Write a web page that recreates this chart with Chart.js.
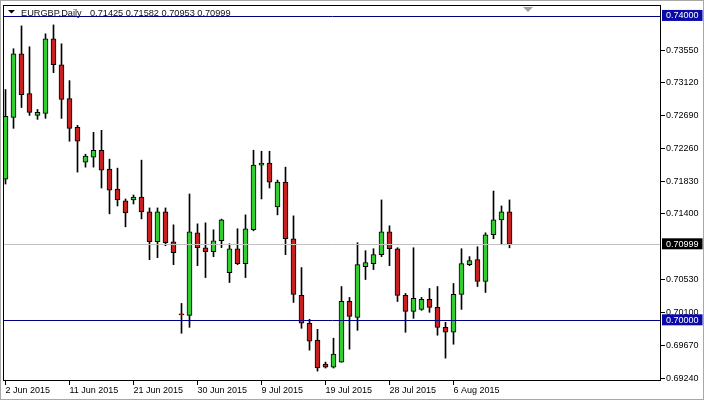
<!DOCTYPE html>
<html>
<head>
<meta charset="utf-8">
<script src="https://cdn.jsdelivr.net/npm/chart.js@4.4.1/dist/chart.umd.min.js"></script>
<style>
  html, body { margin: 0; padding: 0; background: #fff; }
  canvas { display: block; }
</style>
</head>
<body>
<canvas id="eurgbp" width="705" height="401"></canvas>
<script>
// header text
const symbolTitle = 'EURGBP,Daily';
const titleQuote = '0.71425 0.71582 0.70953 0.70999';

// daily OHLC, 2 Jun 2015 .. 14 Aug 2015 (one bar per trading day)
const opens = [
  0.71856, 0.72667, 0.73503, 0.72980, 0.72693, 0.72719, 0.73699, 0.73359, 0.72915, 0.72536,
  0.72078, 0.72144, 0.72235, 0.71987, 0.71725, 0.71569, 0.71582, 0.71621, 0.71425, 0.71033,
  0.71425, 0.71033, 0.70085, 0.70065, 0.71150, 0.70954, 0.70902, 0.71046, 0.70627, 0.70941,
  0.70745, 0.71190, 0.72039, 0.72065, 0.71490, 0.71817, 0.71072, 0.70327, 0.69961, 0.69739,
  0.69425, 0.69386, 0.69451, 0.70248, 0.70039, 0.70706, 0.70745, 0.70863, 0.71163, 0.70941,
  0.70327, 0.70118, 0.70144, 0.70275, 0.70170, 0.69908, 0.69843, 0.70340, 0.70732, 0.70797,
  0.70510, 0.71124, 0.71320, 0.71425
];
const highs = [
  0.73033, 0.73569, 0.73869, 0.73595, 0.72771, 0.73765, 0.73882, 0.73634, 0.73150, 0.72562,
  0.72183, 0.72471, 0.72497, 0.72118, 0.72000, 0.71595, 0.71647, 0.72105, 0.71477, 0.71477,
  0.71477, 0.71255, 0.70222, 0.71660, 0.71268, 0.71281, 0.71190, 0.71330, 0.71006, 0.71203,
  0.71386, 0.72235, 0.72222, 0.72222, 0.71843, 0.72013, 0.71373, 0.70693, 0.70013, 0.69882,
  0.69451, 0.69765, 0.70444, 0.70301, 0.71020, 0.70915, 0.70941, 0.71582, 0.71242, 0.70954,
  0.70353, 0.70954, 0.70301, 0.70418, 0.70444, 0.69974, 0.70484, 0.70941, 0.70837, 0.70967,
  0.71150, 0.71699, 0.71503, 0.71582
];
const lows = [
  0.71791, 0.72523, 0.72797, 0.72693, 0.72641, 0.72654, 0.73255, 0.72654, 0.72353, 0.71948,
  0.72013, 0.72013, 0.71739, 0.71399, 0.71503, 0.71229, 0.71529, 0.71333, 0.70797, 0.70824,
  0.70980, 0.70732, 0.69830, 0.69908, 0.70719, 0.70562, 0.70837, 0.70954, 0.70497, 0.70732,
  0.70562, 0.71176, 0.71595, 0.71739, 0.71386, 0.70863, 0.70235, 0.69895, 0.69608, 0.69333,
  0.69373, 0.69373, 0.69451, 0.69621, 0.69869, 0.70536, 0.70667, 0.70837, 0.70719, 0.70248,
  0.69843, 0.70026, 0.70131, 0.70105, 0.69804, 0.69503, 0.69686, 0.70144, 0.70719, 0.70444,
  0.70366, 0.71072, 0.70993, 0.70953
];
const closes = [
  0.72680, 0.73503, 0.72967, 0.72732, 0.72732, 0.73699, 0.73359, 0.72902, 0.72523, 0.72353,
  0.72157, 0.72235, 0.71974, 0.71712, 0.71582, 0.71412, 0.71621, 0.71425, 0.71033, 0.71425,
  0.71020, 0.70889, 0.70072, 0.71163, 0.70954, 0.70902, 0.71046, 0.71320, 0.70941, 0.70745,
  0.71203, 0.72039, 0.72065, 0.71817, 0.71817, 0.71072, 0.70340, 0.69961, 0.69725, 0.69373,
  0.69386, 0.69556, 0.70248, 0.70052, 0.70732, 0.70758, 0.70863, 0.71163, 0.70941, 0.70327,
  0.70118, 0.70288, 0.70275, 0.70170, 0.69908, 0.69843, 0.70340, 0.70745, 0.70784, 0.70510,
  0.71124, 0.71320, 0.71425, 0.70999
];

// time axis: bar index -> label
const dateTickIdx = [0, 8, 16, 24, 32, 40, 48, 56];
const dateTickLabels = ['2 Jun 2015', '11 Jun 2015', '21 Jun 2015', '30 Jun 2015',
                        '9 Jul 2015', '19 Jul 2015', '28 Jul 2015', '6 Aug 2015'];

// price axis
const priceTicks = [0.7355, 0.7312, 0.7269, 0.7226, 0.7183, 0.7140, 0.7053, 0.7010, 0.6967, 0.6924];
const levelLines = [0.74, 0.70];   // horizontal lines drawn on the chart
const bidPrice = 0.70999;

const BULL = '#33cc33';
const BEAR = '#c8201e';
const NAVY = '#000080';
const LABEL_BLUE = '#0a0aa8';
const FONT = '"Liberation Sans", Arial, sans-serif';

const isLevel = v => levelLines.some(l => Math.abs(l - v) < 1e-7);
const isBid = v => Math.abs(v - bidPrice) < 1e-7;
const isBoxed = v => isLevel(v) || isBid(v);

// everything that isn't a candle
const overlay = {
    id: 'overlay',
    beforeDraw(chart) {
        const ctx = chart.ctx;
        ctx.save();
        ctx.fillStyle = '#fff';
        ctx.fillRect(0, 0, chart.width, chart.height);
        ctx.strokeStyle = '#a8a8a8';
        ctx.lineWidth = 1;
        ctx.strokeRect(0.5, 0.5, chart.width - 2, chart.height - 2);
        ctx.restore();
    },
    afterDatasetsDraw(chart) {
        const { ctx, chartArea: a, scales: { x, y } } = chart;
        ctx.save();
        ctx.lineWidth = 1;

        // bid line
        let py = Math.round(y.getPixelForValue(bidPrice)) + 0.5;
        ctx.strokeStyle = '#c0c0c0';
        ctx.beginPath();
        ctx.moveTo(a.left, py);
        ctx.lineTo(a.right, py);
        ctx.stroke();

        // horizontal level lines
        ctx.strokeStyle = NAVY;
        levelLines.forEach(v => {
            const ly = Math.round(y.getPixelForValue(v)) + 0.5;
            ctx.beginPath();
            ctx.moveTo(a.left, ly);
            ctx.lineTo(a.right, ly);
            ctx.stroke();
        });

        // plot frame
        ctx.strokeStyle = '#000';
        ctx.strokeRect(a.left - 0.5, a.top - 0.5, a.right - a.left, a.bottom - a.top);

        // chart shift marker
        const mx = Math.round(x.getPixelForValue(opens.length + 1.3));
        ctx.fillStyle = '#a0a0a0';
        ctx.beginPath();
        ctx.moveTo(mx - 5, a.top + 1);
        ctx.lineTo(mx + 5, a.top + 1);
        ctx.lineTo(mx, a.top + 6);
        ctx.closePath();
        ctx.fill();

        // header
        ctx.fillStyle = '#000';
        ctx.beginPath();
        ctx.moveTo(8, 10);
        ctx.lineTo(15, 10);
        ctx.lineTo(11.5, 13.5);
        ctx.closePath();
        ctx.fill();
        ctx.font = '9.2px ' + FONT;
        ctx.fillStyle = '#101010';
        ctx.textBaseline = 'alphabetic';
        ctx.fillText(symbolTitle, 21, 16);
        ctx.fillText(titleQuote, 90, 16);
        ctx.restore();
    }
};

const idx = opens.map((_, i) => i);

new Chart(document.getElementById('eurgbp'), {
    type: 'bar',
    data: {
        datasets: [
            {
                label: 'body',
                data: idx.map(i => ({ x: i, y: [opens[i], closes[i]] })),
                backgroundColor: idx.map(i => closes[i] >= opens[i] ? BULL : BEAR),
                borderColor: '#000',
                borderWidth: 1,
                borderSkipped: false,
                barThickness: 5,
                grouped: false,
                order: 0
            },
            {
                label: 'wick',
                data: idx.map(i => ({ x: i, y: [lows[i], highs[i]] })),
                backgroundColor: '#000',
                borderWidth: 0,
                barThickness: 1,
                grouped: false,
                order: 1
            }
        ]
    },
    options: {
        responsive: false,
        animation: false,
        layout: { padding: { left: 4, top: 4, right: 0, bottom: 0 } },
        plugins: {
            legend: { display: false },
            tooltip: { enabled: false }
        },
        scales: {
            x: {
                type: 'linear',
                offset: false,
                min: -0.1875,
                max: 81.9375,
                afterBuildTicks: s => { s.ticks = dateTickIdx.map(v => ({ value: v })); },
                afterFit: s => { s.height = 20; },
                border: { display: false },
                grid: { display: true, offset: false, drawOnChartArea: false, tickLength: 4, tickColor: '#000' },
                ticks: {
                    autoSkip: false,
                    maxRotation: 0,
                    align: 'start',
                    padding: 0,
                    color: '#000',
                    font: { family: FONT, size: 9 },
                    callback: v => dateTickLabels[dateTickIdx.indexOf(v)]
                }
            },
            y: {
                type: 'linear',
                position: 'right',
                min: 0.6920261,
                max: 0.7413072,
                // boxed labels last so they cover their neighbours
                afterBuildTicks: s => {
                    s.ticks = priceTicks.concat([bidPrice], levelLines).map(v => ({ value: v }));
                },
                afterFit: s => { s.width = 44; },
                border: { display: false },
                grid: {
                    drawOnChartArea: false,
                    tickLength: 4,
                    tickColor: c => isBoxed(c.tick.value) ? 'rgba(0,0,0,0)' : '#000'
                },
                ticks: {
                    autoSkip: false,
                    padding: 1,
                    font: { family: FONT, size: 9, lineHeight: '10px' },
                    color: c => isBoxed(c.tick.value) ? '#fff' : '#000',
                    showLabelBackdrop: c => isBoxed(c.tick.value),
                    backdropColor: c => isBid(c.tick.value) ? '#000' : LABEL_BLUE,
                    backdropPadding: { top: 1, bottom: 0, left: 4, right: 4 },
                    callback: v => v.toFixed(5)
                }
            }
        }
    },
    plugins: [overlay]
});
</script>
</body>
</html>
